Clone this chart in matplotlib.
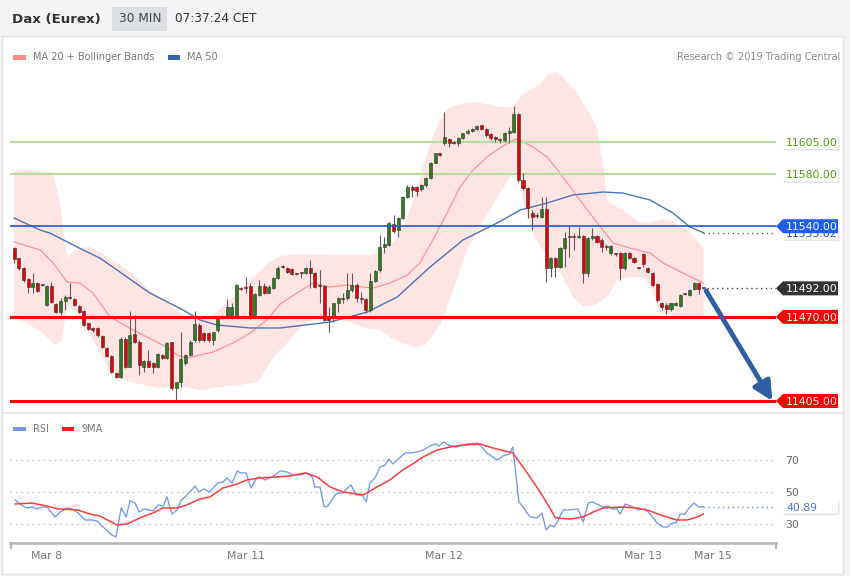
import numpy as np
import matplotlib
matplotlib.use("Agg")
import matplotlib.pyplot as plt
from matplotlib.patches import Rectangle, Polygon
from matplotlib.lines import Line2D
from matplotlib.transforms import IdentityTransform

# ---- 30 min candles ----
opens = [
    11523.4, 11515.1, 11507.4, 11498.9, 11493.2, 11495.8, 11494.5, 11479.1, 11494.0, 11479.9,
    11473.9, 11482.4, 11485.5, 11483.5, 11478.3, 11474.5, 11464.9, 11461.6, 11461.1, 11455.1,
    11446.1, 11439.7, 11426.3, 11423.7, 11452.8, 11431.5, 11456.4, 11450.8, 11431.5, 11435.8,
    11434.0, 11431.5, 11440.5, 11437.9, 11450.3, 11414.7, 11419.9, 11434.0, 11440.5, 11452.1,
    11463.9, 11457.2, 11457.2, 11452.1, 11459.8, 11469.6, 11469.6, 11468.8, 11469.6, 11492.0,
    11492.7, 11493.8, 11469.6, 11486.8, 11493.8, 11488.6, 11492.5, 11499.7, 11508.8, 11507.5,
    11506.7, 11503.4, 11504.1, 11503.6, 11507.5, 11503.6, 11493.9, 11493.9, 11470.2, 11468.9,
    11480.5, 11484.3, 11484.3, 11490.8, 11494.6, 11484.3, 11483.6, 11475.3, 11498.0, 11506.2,
    11524.2, 11525.5, 11541.5, 11537.1, 11546.1, 11562.3, 11570.6, 11570.0, 11568.5, 11571.8,
    11577.0, 11589.1, 11596.3, 11604.0, 11607.1, 11604.8, 11604.0, 11607.9, 11611.7, 11613.8,
    11614.8, 11617.9, 11614.8, 11611.2, 11608.6, 11606.6, 11606.6, 11611.7, 11613.0, 11626.7,
    11575.7, 11569.3, 11550.5, 11547.9, 11547.4, 11553.1, 11507.5, 11515.2, 11508.8, 11522.9,
    11531.9, 11531.9, 11531.9, 11532.4, 11504.1, 11530.6, 11532.4, 11529.3, 11524.7, 11519.0,
    11518.5, 11519.0, 11507.5, 11519.6, 11515.2, 11508.0, 11518.3, 11508.0, 11504.1, 11495.1,
    11481.0, 11479.2, 11475.8, 11479.2, 11478.4, 11487.6, 11486.9, 11491.3, 11496.4, 11492.3,
]
highs = [
    11524.1, 11515.6, 11508.2, 11499.7, 11503.5, 11497.1, 11495.0, 11494.5, 11497.1, 11480.9,
    11484.2, 11486.8, 11495.8, 11484.2, 11479.1, 11475.2, 11465.4, 11462.4, 11461.8, 11455.9,
    11446.9, 11440.5, 11426.8, 11454.6, 11454.6, 11474.5, 11471.4, 11452.1, 11436.6, 11444.3,
    11435.3, 11442.3, 11441.2, 11450.8, 11450.8, 11419.9, 11458.5, 11441.2, 11452.1, 11474.5,
    11464.9, 11458.5, 11458.0, 11458.5, 11469.6, 11471.4, 11483.5, 11480.4, 11495.0, 11492.7,
    11501.0, 11495.8, 11488.1, 11498.4, 11495.8, 11494.5, 11501.0, 11509.2, 11510.1, 11508.8,
    11507.5, 11504.1, 11504.9, 11508.3, 11513.9, 11504.9, 11506.2, 11494.6, 11477.9, 11481.0,
    11485.6, 11488.2, 11503.6, 11503.6, 11495.9, 11489.5, 11484.3, 11504.1, 11506.2, 11533.2,
    11531.9, 11543.5, 11548.7, 11547.4, 11563.3, 11571.8, 11571.8, 11571.1, 11572.6, 11577.8,
    11589.9, 11596.8, 11596.8, 11628.5, 11607.9, 11606.1, 11608.6, 11612.3, 11614.8, 11615.6,
    11618.2, 11618.4, 11615.6, 11612.3, 11609.7, 11608.4, 11613.0, 11616.9, 11632.8, 11627.7,
    11580.8, 11570.6, 11552.5, 11550.0, 11562.8, 11562.8, 11516.0, 11516.5, 11523.7, 11535.8,
    11540.9, 11534.5, 11539.6, 11533.2, 11531.9, 11538.4, 11533.2, 11530.6, 11526.3, 11525.5,
    11519.6, 11520.3, 11520.3, 11520.3, 11516.0, 11508.8, 11519.0, 11508.8, 11504.9, 11495.9,
    11481.7, 11480.4, 11481.0, 11481.7, 11487.6, 11488.6, 11491.3, 11497.2, 11497.2, 11492.5,
]
lows = [
    11511.3, 11506.1, 11497.1, 11488.6, 11488.6, 11489.4, 11493.8, 11478.3, 11480.9, 11472.7,
    11471.4, 11475.2, 11483.5, 11478.3, 11472.7, 11462.9, 11459.8, 11458.5, 11454.6, 11445.6,
    11438.7, 11426.3, 11422.5, 11422.5, 11430.2, 11431.0, 11449.5, 11425.0, 11427.6, 11431.0,
    11426.8, 11430.7, 11437.1, 11437.1, 11413.4, 11405.0, 11416.0, 11432.8, 11439.7, 11450.8,
    11450.8, 11450.8, 11450.8, 11448.2, 11458.5, 11468.0, 11468.8, 11468.0, 11468.8, 11490.7,
    11488.1, 11468.0, 11468.8, 11486.0, 11487.6, 11488.1, 11491.7, 11498.9, 11507.5, 11504.1,
    11502.3, 11502.1, 11499.8, 11502.9, 11492.1, 11492.1, 11480.5, 11467.1, 11458.6, 11466.3,
    11474.0, 11480.5, 11483.0, 11489.5, 11481.8, 11480.5, 11473.3, 11474.0, 11497.2, 11504.9,
    11519.1, 11524.7, 11534.5, 11531.9, 11545.3, 11561.5, 11562.8, 11563.3, 11567.5, 11570.6,
    11576.2, 11588.6, 11594.5, 11602.7, 11601.4, 11603.5, 11601.9, 11607.1, 11611.2, 11613.0,
    11614.3, 11614.3, 11609.2, 11606.6, 11605.3, 11604.0, 11605.3, 11604.5, 11612.3, 11574.4,
    11568.0, 11546.1, 11537.1, 11546.1, 11546.1, 11497.2, 11501.0, 11500.5, 11507.5, 11508.8,
    11516.5, 11521.6, 11530.6, 11495.9, 11501.0, 11529.3, 11526.8, 11520.3, 11521.6, 11517.8,
    11517.0, 11498.5, 11506.2, 11514.4, 11511.8, 11507.2, 11508.8, 11504.1, 11493.8, 11481.7,
    11475.3, 11472.2, 11474.8, 11478.4, 11477.9, 11486.6, 11486.1, 11490.7, 11487.6, 11491.8,
]
closes = [
    11514.4, 11507.4, 11498.4, 11492.7, 11495.8, 11489.9, 11494.3, 11493.8, 11481.7, 11473.4,
    11482.4, 11485.5, 11484.2, 11479.1, 11473.9, 11463.6, 11460.6, 11459.8, 11455.9, 11446.9,
    11439.7, 11427.6, 11423.7, 11452.8, 11431.5, 11455.9, 11450.3, 11432.8, 11435.8, 11431.5,
    11431.0, 11441.2, 11437.9, 11449.5, 11414.7, 11419.9, 11437.1, 11440.5, 11450.8, 11464.4,
    11452.1, 11452.1, 11452.1, 11458.0, 11468.8, 11469.6, 11477.3, 11477.3, 11494.5, 11491.2,
    11492.5, 11469.6, 11487.3, 11493.8, 11488.6, 11493.2, 11499.7, 11507.4, 11508.3, 11504.9,
    11503.1, 11503.1, 11503.9, 11507.5, 11503.6, 11493.3, 11493.6, 11467.6, 11467.6, 11480.5,
    11484.3, 11484.1, 11490.8, 11494.6, 11484.3, 11484.1, 11475.3, 11498.0, 11505.7, 11524.2,
    11526.3, 11542.2, 11536.3, 11546.1, 11562.3, 11570.6, 11568.0, 11567.5, 11571.8, 11577.0,
    11589.1, 11596.3, 11595.0, 11608.6, 11604.5, 11604.5, 11607.9, 11611.7, 11613.8, 11614.8,
    11617.4, 11615.3, 11610.5, 11608.4, 11607.1, 11606.3, 11612.3, 11613.5, 11626.7, 11575.7,
    11569.3, 11553.8, 11547.4, 11547.6, 11553.1, 11507.5, 11515.2, 11508.8, 11522.9, 11530.6,
    11531.7, 11531.7, 11531.9, 11504.1, 11530.6, 11532.4, 11528.1, 11523.7, 11523.7, 11524.7,
    11518.3, 11507.5, 11519.6, 11515.2, 11512.6, 11507.7, 11510.6, 11504.9, 11494.6, 11483.0,
    11477.4, 11475.8, 11480.4, 11481.0, 11486.9, 11487.4, 11490.7, 11496.4, 11491.3, 11492.0,
]

# ---- indicators (candle index, value) ----
bb_upper_t = [0, 7.7, 8.8, 9.9, 11.4, 13.6, 16.4, 18.5, 21.8, 25.0, 29.3, 33.7, 38.0, 42.3,
              46.6, 51.0, 54.9, 57.5, 61.8, 68.3, 76.9, 80.2, 82.3, 84.5, 86.7, 88.8, 91.0,
              93.1, 94.2, 97.9, 100.7, 105.0, 107.8, 109.4, 111.5, 113.7, 115.2, 117.0, 118.7,
              121.7, 123.9, 126.0, 127.3, 128.2, 130.3, 131.6, 135.3, 137.5, 140.3, 142.4,
              145.5, 149]
bb_upper = [11583.4, 11581.8, 11575.7, 11556.4, 11515.4, 11523.1, 11523.9, 11520.1, 11512.3,
            11504.6, 11490.7, 11479.1, 11467.5, 11469.1, 11483.0, 11498.4, 11511.6, 11517.0,
            11518.5, 11517.7, 11517.7, 11521.6, 11529.3, 11543.2, 11564.1, 11591.1, 11614.3,
            11628.2, 11632.0, 11635.1, 11635.9, 11632.0, 11632.0, 11639.7, 11645.2, 11649.8,
            11656.7, 11659.1, 11655.2, 11642.8, 11629.7, 11616.6, 11587.2, 11560.2, 11554.8,
            11552.5, 11542.5, 11543.2, 11545.5, 11543.2, 11537.0, 11523.9]
bb_lower_t = [0, 3.4, 6.6, 8.8, 10.3, 11.4, 13.1, 15.1, 17.0, 18.5, 20.7, 22.9, 27.2, 31.5,
              35.8, 40.2, 44.5, 48.8, 52.7, 54.2, 56.4, 59.6, 61.8, 65.0, 69.4, 72.6, 75.8,
              79.1, 82.3, 86.2, 88.8, 92.1, 94.9, 97.9, 100.7, 104.4, 107.8, 109.1, 110.2,
              112.2, 115.0, 118.0, 120.8, 123.0, 125.6, 128.2, 130.3, 133.1, 136.4, 137.9,
              139.6, 144.0, 149]
bb_lower = [11470.6, 11463.7, 11456.0, 11448.2, 11452.1, 11479.1, 11473.7, 11463.7, 11452.1,
            11442.8, 11428.9, 11422.0, 11418.1, 11415.0, 11416.6, 11413.5, 11415.8, 11417.4,
            11419.7, 11428.9, 11440.5, 11452.1, 11461.4, 11469.1, 11469.1, 11466.0, 11461.4,
            11459.8, 11452.1, 11446.7, 11448.2, 11463.7, 11490.7, 11521.6, 11540.1, 11561.8,
            11581.8, 11579.5, 11556.4, 11533.2, 11517.7, 11504.6, 11485.3, 11477.6, 11479.1,
            11485.3, 11498.4, 11500.8, 11500.0, 11490.7, 11473.7, 11469.1, 11469.1]
ma20_t = [0, 5.6, 8.4, 11.4, 14.2, 17.0, 20.7, 25.7, 30.0, 33.0, 35.2, 37.3, 40.2, 43.0, 47.3,
          51.0, 54.6, 57.5, 61.1, 64.6, 68.3, 71.9, 75.4, 77.6, 81.2, 85.0, 87.7, 90.5, 93.6,
          96.4, 99.2, 102.2, 105.0, 107.8, 108.9, 112.2, 115.2, 118.0, 122.3, 126.7, 129.5,
          133.1, 137.5, 140.3, 144.6, 149]
ma20 = [11527.8, 11521.6, 11511.6, 11496.9, 11496.1, 11488.4, 11469.9, 11459.8, 11452.1,
        11446.7, 11440.5, 11438.2, 11440.5, 11442.8, 11449.8, 11457.5, 11467.5, 11479.9,
        11488.4, 11496.1, 11493.0, 11494.6, 11493.0, 11492.3, 11496.1, 11502.3, 11511.6,
        11529.3, 11550.2, 11570.3, 11583.4, 11593.4, 11600.4, 11606.5, 11607.3, 11601.1,
        11593.4, 11581.1, 11560.2, 11539.4, 11527.0, 11523.1, 11519.3, 11511.6, 11503.8,
        11496.1]
ma50_t = [0, 5.6, 7.7, 14.9, 18.5, 22.2, 29.3, 36.5, 40.2, 43.8, 51.0, 57.5, 68.3, 76.3, 82.8,
          89.9, 97.0, 104.4, 109.4, 115.2, 120.8, 127.3, 131.6, 137.5, 142.4, 146.1, 149]
ma50 = [11546.3, 11537.0, 11534.7, 11521.6, 11515.4, 11506.2, 11488.4, 11475.3, 11467.5,
        11463.7, 11461.4, 11461.4, 11466.0, 11473.7, 11485.3, 11508.5, 11529.3, 11542.5,
        11552.5, 11557.9, 11564.1, 11566.4, 11565.6, 11560.2, 11550.2, 11539.4, 11535.02]

rsi_t = [0.2, 1.2, 2.7, 3.8, 4.9, 6.0, 7.1, 8.8, 9.9, 11.4, 12.5, 13.8, 15.3, 16.8, 17.9, 19.2,
         21.1, 22.0, 23.1, 24.2, 25.0, 26.1, 27.0, 28.0, 29.1, 30.0, 31.1, 32.2, 33.0, 34.1,
         35.2, 36.1, 36.9, 38.0, 39.1, 39.9, 41.0, 42.1, 43.0, 44.0, 45.1, 46.0, 47.1, 48.2,
         49.0, 50.1, 51.2, 52.5, 53.1, 54.2, 55.7, 57.5, 59.0, 60.3, 61.8, 63.3, 64.4, 65.0,
         66.1, 67.0, 67.8, 68.9, 69.8, 71.1, 71.9, 72.8, 73.9, 75.2, 76.1, 76.9, 78.0, 79.1,
         80.2, 81.0, 81.9, 83.0, 84.5, 85.6, 87.1, 88.4, 90.3, 91.2, 91.8, 92.9, 94.2, 95.7,
         97.9, 100.1, 101.1, 102.2, 104.4, 105.7, 107.0, 107.8, 109.1, 110.0, 111.5, 113.0,
         114.1, 115.0, 115.9, 116.7, 117.6, 118.7, 120.2, 121.9, 123.0, 124.1, 125.0, 127.3,
         128.4, 129.3, 130.3, 131.0, 132.1, 133.8, 134.9, 136.4, 137.5, 139.0, 140.3, 141.2,
         142.2, 143.1, 144.0, 145.0, 145.9, 147.0, 147.9, 149]
rsi = [45.0, 42.5, 40.0, 40.6, 39.4, 40.6, 40.6, 34.4, 37.5, 40.0, 39.4, 36.9, 32.5, 32.5, 31.9,
       28.1, 23.1, 21.9, 40.0, 34.4, 44.4, 43.1, 37.5, 39.4, 38.8, 38.1, 41.9, 41.2, 46.9, 36.2,
       38.8, 45.0, 46.9, 50.0, 53.8, 50.0, 51.9, 50.0, 52.5, 55.6, 56.2, 58.8, 55.6, 63.1, 61.9,
       61.9, 52.5, 59.0, 59.4, 57.5, 59.4, 63.1, 62.5, 60.6, 60.6, 61.9, 59.4, 53.1, 53.1, 40.6,
       41.2, 46.2, 49.4, 49.4, 51.9, 54.4, 48.1, 48.1, 43.8, 55.6, 58.8, 65.6, 66.9, 70.6, 67.5,
       70.6, 74.4, 74.4, 75.0, 76.2, 79.4, 80.0, 78.8, 81.2, 78.8, 78.1, 80.0, 80.6, 78.1, 74.4,
       70.0, 72.5, 73.8, 78.1, 43.8, 40.6, 34.4, 33.8, 36.9, 26.2, 29.4, 28.1, 32.5, 38.8, 38.8,
       39.4, 31.2, 43.1, 43.8, 40.6, 41.2, 39.4, 39.4, 36.2, 42.5, 40.6, 38.8, 39.4, 36.2, 30.6,
       28.1, 28.1, 30.6, 30.6, 36.2, 36.2, 40.0, 43.1, 40.6, 40.89]
rsi_ma_t = [0.2, 3.8, 7.1, 9.4, 13.6, 16.4, 18.5, 22.2, 24.4, 27.2, 30.0, 32.2, 35.2, 37.3,
            40.2, 42.3, 45.1, 48.2, 50.3, 53.1, 56.8, 59.6, 62.9, 65.5, 68.3, 71.1, 75.4, 78.4,
            81.2, 84.1, 85.6, 88.4, 91.4, 94.2, 97.0, 100.7, 103.5, 107.8, 110.9, 113.7, 115.8,
            117.0, 120.2, 123.0, 125.2, 127.3, 131.6, 134.7, 137.5, 140.3, 143.3, 145.5, 147.7,
            149]
rsi_ma = [42.5, 43.1, 41.2, 39.4, 38.8, 36.2, 35.0, 29.4, 30.0, 33.8, 36.9, 40.0, 40.0, 41.9,
          45.6, 46.9, 52.5, 55.0, 57.5, 58.8, 59.4, 60.0, 61.9, 59.4, 53.1, 50.0, 48.1, 53.1,
          57.5, 64.0, 66.5, 71.9, 76.2, 78.1, 79.4, 80.0, 77.5, 74.4, 61.9, 50.0, 40.0, 33.8,
          33.1, 34.4, 37.5, 40.0, 40.6, 40.0, 38.1, 35.0, 32.5, 32.5, 34.4, 36.2]

resistances = [11605.0, 11580.0]
pivot = 11540.0
supports = [11470.0, 11405.0]
last_price = 11492.0
ma50_last = 11535.02
rsi_last = 40.89
rsi_levels = [70, 50, 30]

date_ticks = [7, 50, 93, 136, 151]
date_labels = ["Mar 8", "Mar 11", "Mar 12", "Mar 13", "Mar 15"]

# ---- figure ----
W, H = 850, 576
fig = plt.figure(figsize=(W / 100, H / 100), dpi=100, facecolor="#f4f4f4")
PIX = IdentityTransform()


def box(x0, y0, x1, y1, **kw):
    # rectangle given in top-left pixel coordinates
    fig.add_artist(Rectangle((x0 / W, 1 - y1 / H), (x1 - x0) / W, (y1 - y0) / H,
                             transform=fig.transFigure, **kw))


def hline(x0, x1, y, **kw):
    fig.add_artist(Line2D([x0 / W, x1 / W], [1 - y / H, 1 - y / H],
                          transform=fig.transFigure, **kw))


def ftext(x, y, s, **kw):
    fig.text(x / W, 1 - y / H, s, va="center", ha="left", **kw)


# card + header
box(2, 36, 843, 574, fc="white", ec="#e2e2e2", lw=1, zorder=-2)
box(112, 7, 167, 31, fc="#dcdfe4", ec="none", zorder=-1)
ftext(12, 19, "Dax (Eurex)", fontsize=9.6, fontweight="bold", color="#333333")
ftext(119, 19, "30 MIN", fontsize=8.7, color="#444444")
ftext(175, 19, "07:37:24 CET", fontsize=8.7, color="#333333")

# legends
box(13, 55, 26, 60, fc="#ff8a8a", ec="none")
ftext(33, 57.5, "MA 20 + Bollinger Bands", fontsize=7, color="#777777")
box(168, 55, 180, 60, fc="#3d64a8", ec="none")
ftext(187, 57.5, "MA 50", fontsize=7, color="#777777")
fig.text(840 / W, 1 - 57.5 / H, "Research \u00a9 2019 Trading Central", fontsize=7,
         color="#8a8a8a", ha="right", va="center")
hline(2, 843, 413, color="#e3e3e3", lw=1.3)
box(13, 427, 26, 431, fc="#7396e6", ec="none")
ftext(33, 429, "RSI", fontsize=7, color="#777777")
box(62, 427, 74, 431, fc="#ff1a1a", ec="none")
ftext(81, 429, "9MA", fontsize=7, color="#777777")

# ---- main price panel ----
XLIM = (-0.93, 164.7)
ax = fig.add_axes([10 / W, 1 - 410 / H, 766 / W, 345 / H])
ax.set_xlim(*XLIM)
ax.set_ylim(11398.05, 11664.5)
ax.set_axis_off()

band_x = np.concatenate([bb_upper_t, bb_lower_t[::-1]])
band_y = np.concatenate([bb_upper, bb_lower[::-1]])
ax.fill(band_x, band_y, color="#ffe4e4", lw=0, zorder=1)
ax.plot(ma20_t, ma20, color="#ff9494", lw=0.9, zorder=2)
ax.plot(ma50_t, ma50, color="#4d72b5", lw=1.0, zorder=2)

for r in resistances:
    ax.axhline(r, color="#b8da9e", lw=1.6, zorder=3)

idx = np.arange(len(closes))
o = np.array(opens)
c = np.array(closes)
colors = np.where(c >= o, "#2a7d1a", "#e60000")
ax.vlines(idx, lows, highs, color="#5e5e5e", lw=0.8, zorder=4)
ax.bar(idx, np.maximum(np.abs(c - o), 0.7), bottom=np.minimum(o, c), width=0.66,
       color=colors, edgecolor="#333333", lw=0.4, zorder=4.5)

ax.axhline(pivot, color="#2457d6", lw=1.2, zorder=5)
for s in supports:
    ax.axhline(s, color="#ff0000", lw=2.2, zorder=5)

ax.plot([ma50_t[-1], XLIM[1]], [ma50_last] * 2, color="#56607a", lw=1,
        ls=(0, (1, 2.5)), zorder=5)
ax.plot([idx[-1] + 0.8, XLIM[1]], [last_price] * 2, color="#444444", lw=1,
        ls=(0, (1, 2.5)), zorder=5)

ax.annotate("", xy=(idx[-1] + 14.9, supports[1]), xytext=(idx[-1] + 0.6, last_price - 2),
            arrowprops=dict(arrowstyle="-|>,head_length=0.8,head_width=0.4",
                            mutation_scale=14, color="#2f5fa3", lw=3.5,
                            shrinkA=0, shrinkB=0), zorder=6)

# ---- RSI panel ----
rx = fig.add_axes([10 / W, 1 - 543 / H, 766 / W, 103 / H])
rx.set_xlim(*XLIM)
rx.set_ylim(18.1, 82.5)
rx.patch.set_alpha(0)
for side in ["top", "right", "left"]:
    rx.spines[side].set_visible(False)
rx.spines["bottom"].set_color("#b5b5b5")
rx.spines["bottom"].set_linewidth(1.8)
rx.set_yticks([])
rx.set_xticks(date_ticks)
rx.set_xticklabels(date_labels)
rx.tick_params(axis="x", length=0, pad=6, labelsize=7.8, labelcolor="#777777")
for lv in rsi_levels:
    rx.axhline(lv, color="#bdbdbd", lw=1, ls=(0, (1, 3)))
rx.plot(rsi_t, rsi, color="#7b9be8", lw=1)
rx.plot(rsi_ma_t, rsi_ma, color="#ff3b3b", lw=1.1)
rx.plot([rsi_t[-1], XLIM[1]], [rsi_last] * 2, color="#6f8fe0", lw=1, ls=(0, (1, 2.5)))
for xe in (11, 776):
    fig.add_artist(Line2D([xe / W, xe / W], [1 - 543 / H, 1 - 548 / H],
                          transform=fig.transFigure, color="#b5b5b5", lw=1.5))

# ---- right-hand value labels ----
def value_label(axis, value, text, fc, tc, ec="none", shadow=False, z=10):
    y = axis.transData.transform((0, value))[1]
    x0, x1, tip, h = 776, 838, 7, 7
    verts = [(x0, y), (x0 + tip, y + h), (x1, y + h), (x1, y - h), (x0 + tip, y - h)]
    if shadow:
        fig.add_artist(Polygon([(vx + 1.5, vy - 1.5) for vx, vy in verts], closed=True,
                               transform=PIX, fc="#e4e4e4", ec="none", zorder=z))
    fig.add_artist(Polygon(verts, closed=True, transform=PIX, fc=fc, ec=ec, lw=0.6,
                           zorder=z + 0.1))
    fig.text(x0 + 10, y, text, transform=PIX, color=tc, fontsize=7.8, va="center_baseline",
             ha="left", zorder=z + 0.2)


for r in resistances:
    value_label(ax, r, f"{r:.2f}", "white", "#4f9b0f", shadow=True)
value_label(ax, ma50_last, f"{ma50_last:.2f}", "white", "#2d4f96", shadow=True, z=11)
value_label(ax, pivot, f"{pivot:.2f}", "#1e5ef0", "white", z=12)
value_label(ax, last_price, f"{last_price:.2f}", "#333333", "white", z=13)
for s in supports:
    value_label(ax, s, f"{s:.2f}", "#ff0000", "white", z=14)
value_label(rx, rsi_last, f"{rsi_last:.2f}", "white", "#4d74e0", shadow=True, z=15)
for lv in rsi_levels:
    y = rx.transData.transform((0, lv))[1]
    fig.text(785, y, str(lv), transform=PIX, color="#666666", fontsize=7.8,
             va="center_baseline", ha="left")

fig.savefig("out.png", dpi=100, facecolor=fig.get_facecolor())
